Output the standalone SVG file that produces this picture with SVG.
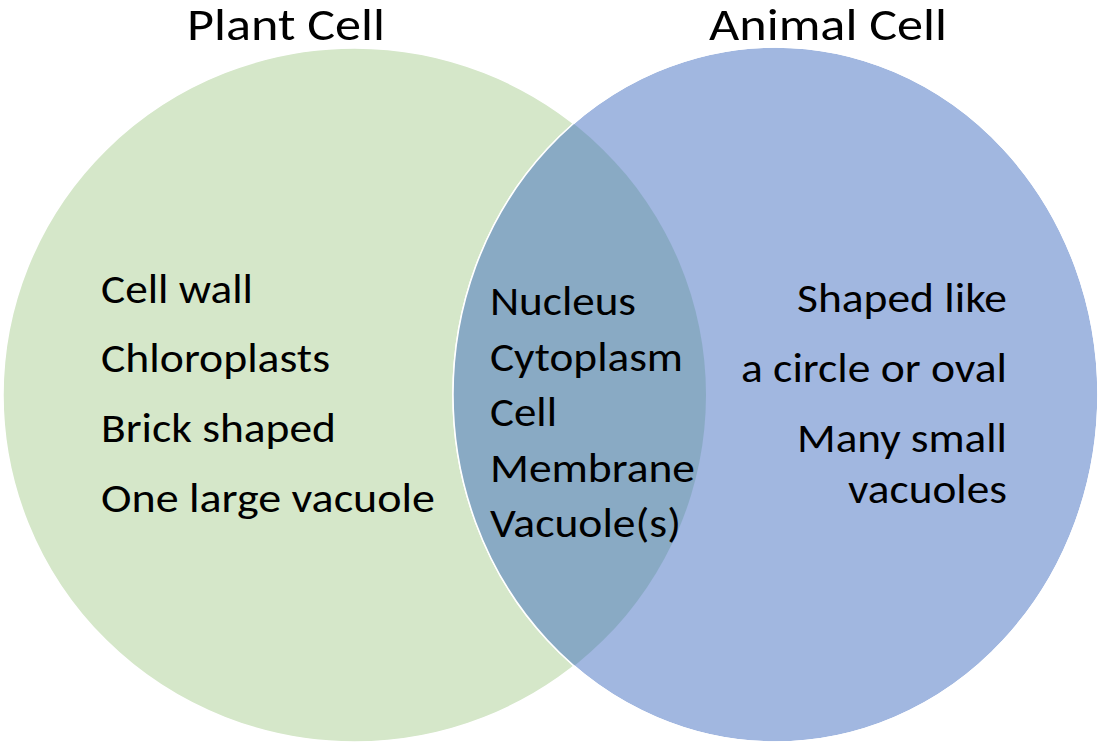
<svg xmlns="http://www.w3.org/2000/svg" width="1101" height="747" viewBox="0 0 1101 747">
<style>
.t{font-family:Calibri,Carlito,Lato,"Open Sans",sans-serif;fill:#000;}
.b{font-size:42px;}
.h{font-size:46px;}
.e{text-anchor:end;}
</style>
<defs>
<ellipse id="shpL" cx="354.5" cy="395" rx="351.5" ry="347"/>
<ellipse id="shpR" cx="775.5" cy="394.5" rx="322.5" ry="347.5"/>
<clipPath id="clipR"><use href="#shpR"/></clipPath>
</defs>
<rect width="1101" height="747" fill="#fff"/>
<g id="plant-cell">
<use href="#shpL" fill="#D5E7C9" stroke="#fff" stroke-width="1.5"/>
</g>
<g id="animal-cell">
<use href="#shpR" fill="#A1B7E0" stroke="#fff" stroke-width="1.5"/>
</g>
<g id="overlap">
<use href="#shpL" fill="#89AAC4" clip-path="url(#clipR)"/>
<use href="#shpR" fill="none" stroke="#fff" stroke-width="1.5"/>
</g>
<g id="connectors"/>
<g id="titles">
<text class="t h" x="187" y="40" textLength="198" lengthAdjust="spacingAndGlyphs">Plant Cell</text>
<text class="t h" x="709" y="40" textLength="238" lengthAdjust="spacingAndGlyphs">Animal Cell</text>
</g>
<g id="plant-text">
<text class="t b" x="101" y="302.5" textLength="152" lengthAdjust="spacingAndGlyphs">Cell wall</text>
<text class="t b" x="101" y="372" textLength="229" lengthAdjust="spacingAndGlyphs">Chloroplasts</text>
<text class="t b" x="101" y="442" textLength="235" lengthAdjust="spacingAndGlyphs">Brick shaped</text>
<text class="t b" x="101" y="511.5" textLength="334" lengthAdjust="spacingAndGlyphs">One large vacuole</text>
</g>
<g id="shared-text">
<text class="t b" x="490" y="315" textLength="146" lengthAdjust="spacingAndGlyphs">Nucleus</text>
<text class="t b" x="490" y="370.5" textLength="193" lengthAdjust="spacingAndGlyphs">Cytoplasm</text>
<text class="t b" x="490" y="426" textLength="67" lengthAdjust="spacingAndGlyphs">Cell</text>
<text class="t b" x="490" y="481.5" textLength="205" lengthAdjust="spacingAndGlyphs">Membrane</text>
<text class="t b" x="490" y="536.5" textLength="191" lengthAdjust="spacingAndGlyphs">Vacuole(s)</text>
</g>
<g id="animal-text">
<text class="t b e" x="1007" y="312" textLength="210" lengthAdjust="spacingAndGlyphs">Shaped like</text>
<text class="t b e" x="1007" y="381.5" textLength="266" lengthAdjust="spacingAndGlyphs">a circle or oval</text>
<text class="t b e" x="1007" y="451.5" textLength="210" lengthAdjust="spacingAndGlyphs">Many small</text>
<text class="t b e" x="1007" y="502.5" textLength="159" lengthAdjust="spacingAndGlyphs">vacuoles</text>
</g>
</svg>
